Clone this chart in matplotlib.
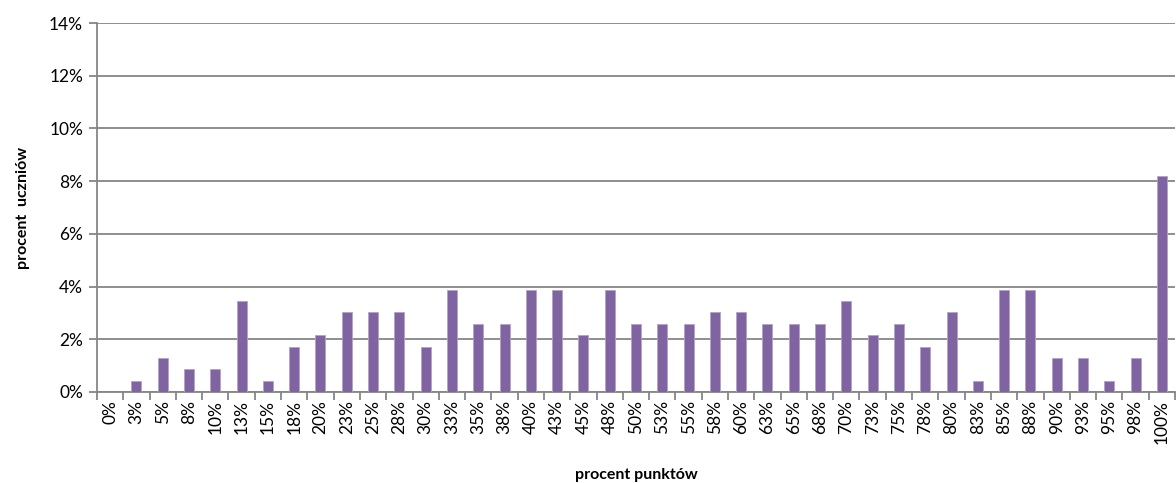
import matplotlib
matplotlib.use("Agg")
import matplotlib.pyplot as plt
import numpy as np

categories = ["0%", "3%", "5%", "8%", "10%", "13%", "15%", "18%", "20%", "23%", "25%",
              "28%", "30%", "33%", "35%", "38%", "40%", "43%", "45%", "48%", "50%",
              "53%", "55%", "58%", "60%", "63%", "65%", "68%", "70%", "73%", "75%",
              "78%", "80%", "83%", "85%", "88%", "90%", "93%", "95%", "98%", "100%"]
values = [0.0, 0.43, 1.29, 0.86, 0.86, 3.45, 0.43, 1.72, 2.16, 3.02, 3.02,
          3.02, 1.72, 3.88, 2.59, 2.59, 3.88, 3.88, 2.16, 3.88, 2.59,
          2.59, 2.59, 3.02, 3.02, 2.59, 2.59, 2.59, 3.45, 2.16, 2.59,
          1.72, 3.02, 0.43, 3.88, 3.88, 1.29, 1.29, 0.43, 1.29, 8.19]
yticks = [0, 2, 4, 6, 8, 10, 12, 14]

plt.rcParams['font.family'] = ['Lato', 'DejaVu Sans']

fig = plt.figure(figsize=(11.76, 4.83), dpi=100)
ax = fig.add_axes([97/1176, 91/483, 1078/1176, 369/483])

x = np.arange(len(categories))
ax.bar(x, values, width=0.38, color="#8064A2", edgecolor="#B3A2C7", linewidth=0.6, zorder=3)

ax.set_xlim(-0.5, len(categories) - 0.5)
ax.set_ylim(0, 14)
ax.set_yticks(yticks)
ax.set_yticklabels([f"{v}%" for v in yticks], fontsize=12.5)
ax.yaxis.grid(True, color="#868686", linewidth=1.3, zorder=0)
ax.set_axisbelow(True)

ax.set_xticks(x)
ax.set_xticklabels(categories, rotation=90, fontsize=12.5)
ax.tick_params(axis='x', length=0, pad=6)
ax.set_xticks(np.arange(-0.5, len(categories), 1), minor=True)
ax.tick_params(axis='x', which='minor', length=6, width=1.3, color="#868686", direction='out')
ax.tick_params(axis='y', length=6, width=1.3, color="#868686", direction='out', pad=4)

for s in ['top', 'right']:
    ax.spines[s].set_visible(False)
for s in ['left', 'bottom']:
    ax.spines[s].set_color("#868686")
    ax.spines[s].set_linewidth(1.3)

ax.set_xlabel("procent punktów", fontsize=11.5, fontweight='bold', labelpad=17)
ax.set_ylabel("procent  uczniów", fontsize=11.5, fontweight='bold', labelpad=14)

fig.savefig("out.png", dpi=100)
